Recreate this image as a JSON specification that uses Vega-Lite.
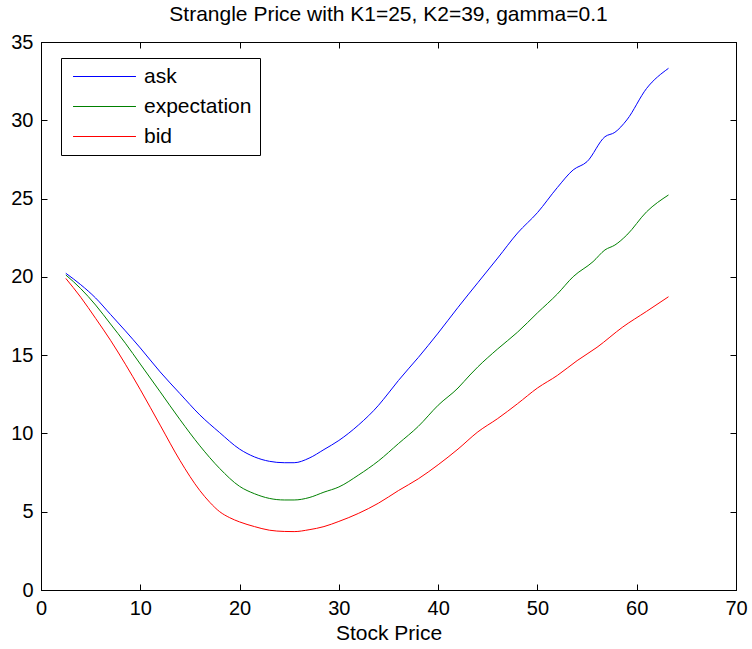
{
  "$schema": "https://vega.github.io/schema/vega-lite/v6.json",
  "width": 695,
  "height": 548,
  "autosize": {"type": "none"},
  "padding": {"left": 41, "top": 42, "right": 16, "bottom": 59},
  "background": "white",
  "title": {
    "text": "Strangle Price with K1=25, K2=39, gamma=0.1",
    "font": "Liberation Sans",
    "fontSize": 21,
    "fontWeight": "normal",
    "color": "black",
    "anchor": "middle",
    "baseline": "alphabetic",
    "offset": -10
  },
  "config": {
    "view": {"stroke": "black", "strokeWidth": 1},
    "axis": {
      "grid": false,
      "domainColor": "black",
      "tickColor": "black",
      "labelColor": "black",
      "titleColor": "black",
      "labelFont": "Liberation Sans",
      "titleFont": "Liberation Sans",
      "labelFontSize": 20,
      "titleFontSize": 21,
      "titleFontWeight": "normal",
      "tickSize": -6,
      "labelPadding": 14
    }
  },
  "data": {
    "values": [
      {"s": "ask", "x": 2.5, "y": 20.23}, {"s": "ask", "x": 4, "y": 19.5}, {"s": "ask", "x": 5.5, "y": 18.65},
      {"s": "ask", "x": 7, "y": 17.6}, {"s": "ask", "x": 8.5, "y": 16.55}, {"s": "ask", "x": 10, "y": 15.46},
      {"s": "ask", "x": 12, "y": 13.93}, {"s": "ask", "x": 14, "y": 12.54}, {"s": "ask", "x": 16, "y": 11.18},
      {"s": "ask", "x": 18, "y": 10.05}, {"s": "ask", "x": 20, "y": 9.0}, {"s": "ask", "x": 21.5, "y": 8.5},
      {"s": "ask", "x": 23, "y": 8.22}, {"s": "ask", "x": 24.5, "y": 8.13}, {"s": "ask", "x": 25.5, "y": 8.13},
      {"s": "ask", "x": 27, "y": 8.42}, {"s": "ask", "x": 28.5, "y": 8.97}, {"s": "ask", "x": 30, "y": 9.55},
      {"s": "ask", "x": 32, "y": 10.55}, {"s": "ask", "x": 34, "y": 11.8}, {"s": "ask", "x": 35, "y": 12.58},
      {"s": "ask", "x": 36, "y": 13.38}, {"s": "ask", "x": 38, "y": 14.85}, {"s": "ask", "x": 40, "y": 16.41},
      {"s": "ask", "x": 42, "y": 18.05}, {"s": "ask", "x": 44, "y": 19.63}, {"s": "ask", "x": 46, "y": 21.2},
      {"s": "ask", "x": 48, "y": 22.8}, {"s": "ask", "x": 50, "y": 24.1}, {"s": "ask", "x": 52, "y": 25.7},
      {"s": "ask", "x": 53.6, "y": 26.83}, {"s": "ask", "x": 55, "y": 27.36}, {"s": "ask", "x": 56.8, "y": 28.95},
      {"s": "ask", "x": 57.8, "y": 29.23}, {"s": "ask", "x": 59, "y": 30.02}, {"s": "ask", "x": 61, "y": 32.04},
      {"s": "ask", "x": 63.2, "y": 33.32},

      {"s": "expectation", "x": 2.5, "y": 20.12}, {"s": "expectation", "x": 4, "y": 19.25}, {"s": "expectation", "x": 5.5, "y": 18.2},
      {"s": "expectation", "x": 7, "y": 16.99}, {"s": "expectation", "x": 8.5, "y": 15.76}, {"s": "expectation", "x": 10, "y": 14.43},
      {"s": "expectation", "x": 12, "y": 12.66}, {"s": "expectation", "x": 14, "y": 10.88}, {"s": "expectation", "x": 16, "y": 9.21},
      {"s": "expectation", "x": 18, "y": 7.76}, {"s": "expectation", "x": 20, "y": 6.62}, {"s": "expectation", "x": 21.5, "y": 6.15},
      {"s": "expectation", "x": 23, "y": 5.85}, {"s": "expectation", "x": 24.5, "y": 5.75}, {"s": "expectation", "x": 25.5, "y": 5.75},
      {"s": "expectation", "x": 27, "y": 5.9}, {"s": "expectation", "x": 28.5, "y": 6.25}, {"s": "expectation", "x": 30, "y": 6.58},
      {"s": "expectation", "x": 32, "y": 7.35}, {"s": "expectation", "x": 34, "y": 8.25}, {"s": "expectation", "x": 36, "y": 9.35},
      {"s": "expectation", "x": 38, "y": 10.45}, {"s": "expectation", "x": 40, "y": 11.8}, {"s": "expectation", "x": 42, "y": 12.9},
      {"s": "expectation", "x": 43.2, "y": 13.73}, {"s": "expectation", "x": 44, "y": 14.25}, {"s": "expectation", "x": 46, "y": 15.4},
      {"s": "expectation", "x": 48, "y": 16.47}, {"s": "expectation", "x": 50, "y": 17.7}, {"s": "expectation", "x": 52, "y": 18.9},
      {"s": "expectation", "x": 53.6, "y": 20.01}, {"s": "expectation", "x": 55.6, "y": 20.97}, {"s": "expectation", "x": 56.8, "y": 21.72},
      {"s": "expectation", "x": 57.8, "y": 22.03}, {"s": "expectation", "x": 59, "y": 22.67}, {"s": "expectation", "x": 61, "y": 24.16},
      {"s": "expectation", "x": 63.2, "y": 25.23},

      {"s": "bid", "x": 2.5, "y": 19.9}, {"s": "bid", "x": 4, "y": 18.7}, {"s": "bid", "x": 5.5, "y": 17.35},
      {"s": "bid", "x": 7, "y": 15.95}, {"s": "bid", "x": 8.5, "y": 14.42}, {"s": "bid", "x": 10, "y": 12.8},
      {"s": "bid", "x": 12, "y": 10.53}, {"s": "bid", "x": 14, "y": 8.27}, {"s": "bid", "x": 16, "y": 6.35},
      {"s": "bid", "x": 17, "y": 5.6}, {"s": "bid", "x": 18, "y": 5.0}, {"s": "bid", "x": 19, "y": 4.62},
      {"s": "bid", "x": 20, "y": 4.35}, {"s": "bid", "x": 21.5, "y": 4.05},
      {"s": "bid", "x": 23, "y": 3.82}, {"s": "bid", "x": 24.5, "y": 3.74}, {"s": "bid", "x": 25.5, "y": 3.73},
      {"s": "bid", "x": 27, "y": 3.85}, {"s": "bid", "x": 28.5, "y": 4.05}, {"s": "bid", "x": 30, "y": 4.38},
      {"s": "bid", "x": 32, "y": 4.9}, {"s": "bid", "x": 34, "y": 5.55}, {"s": "bid", "x": 36, "y": 6.35},
      {"s": "bid", "x": 38, "y": 7.1}, {"s": "bid", "x": 40, "y": 8.0}, {"s": "bid", "x": 42, "y": 9.0},
      {"s": "bid", "x": 44, "y": 10.1}, {"s": "bid", "x": 46, "y": 10.95}, {"s": "bid", "x": 48, "y": 11.9},
      {"s": "bid", "x": 50, "y": 12.9}, {"s": "bid", "x": 52, "y": 13.7}, {"s": "bid", "x": 54, "y": 14.65},
      {"s": "bid", "x": 56, "y": 15.5}, {"s": "bid", "x": 58.6, "y": 16.8}, {"s": "bid", "x": 61, "y": 17.8},
      {"s": "bid", "x": 63.2, "y": 18.73}
    ]
  },
  "layer": [
    {
      "mark": {"type": "line", "strokeWidth": 1, "interpolate": "monotone"},
      "encoding": {
        "x": {
          "field": "x", "type": "quantitative",
          "scale": {"domain": [0, 70], "nice": false},
          "axis": {"values": [0, 10, 20, 30, 40, 50, 60, 70], "title": "Stock Price", "titlePadding": 4, "labelFlush": false}
        },
        "y": {
          "field": "y", "type": "quantitative",
          "scale": {"domain": [0, 35], "nice": false},
          "axis": {"values": [0, 5, 10, 15, 20, 25, 30, 35], "title": null, "labelPadding": 14}
        },
        "color": {
          "field": "s", "type": "nominal",
          "scale": {"domain": ["ask", "expectation", "bid"], "range": ["#0000ff", "#008000", "#ff0000"]},
          "legend": {
            "title": null,
            "orient": "none",
            "legendX": 20,
            "legendY": 16,
            "direction": "vertical",
            "fillColor": "white",
            "strokeColor": "black",
            "padding": 8,
            "symbolType": "M-6,0H6",
            "symbolSize": 110,
            "symbolStrokeWidth": 1,
            "symbolOffset": 25,
            "labelOffset": 29,
            "labelFont": "Liberation Sans",
            "labelFontSize": 21,
            "labelColor": "black",
            "rowPadding": 8
          }
        }
      }
    },
    {
      "mark": {"type": "line", "opacity": 0},
      "encoding": {
        "x": {"field": "x", "type": "quantitative", "axis": {"orient": "top", "values": [0, 10, 20, 30, 40, 50, 60, 70], "labels": false, "title": null}},
        "y": {"field": "y", "type": "quantitative", "axis": {"orient": "right", "values": [0, 5, 10, 15, 20, 25, 30, 35], "labels": false, "title": null}},
        "detail": {"field": "s"}
      }
    }
  ],
  "resolve": {"axis": {"x": "independent", "y": "independent"}}
}
